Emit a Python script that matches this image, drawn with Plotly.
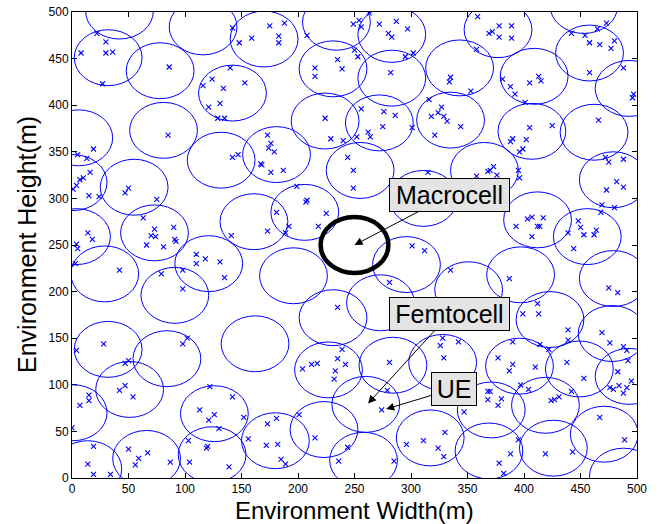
import plotly.graph_objects as go

# ---------------- data (metres) ----------------
cell_x = [42, 32, 78, 81, 6, 116, 170, 231, 234, 283, 142, 224, 272, 181, 132, 343, 377, 283, 335, 453,
          458, 409, 493, 407, 462, 55, 1, 73, 4, 29, 121, 91, 206, 161, 196, 255, 365, 311, 296, 351,
          273, 231, 479, 412, 456, 397, 479, 423, 478, 32, 84, 51, 1, 14, 66, 126, 124, 162, 227, 180,
          223, 284, 328, 260, 317, 258, 371, 369, 396, 449, 493, 419, 471, 426, 488]
cell_y = [501, 451, 437, 373, 365, 484, 471, 439, 489, 476, 413, 383, 381, 347, 341, 440, 481, 429, 384, 507,
          456, 431, 418, 372, 371, 312, 317, 263, 259, 219, 230, 196, 285, 275, 217, 330, 330, 300, 229, 202,
          188, 172, 320, 277, 259, 218, 214, 170, 155, 138, 128, 95, 70, 10, 21, 69, 25, 144, 116, 40,
          52, 121, 124, 79, 43, 19, 73, 29, 120, 117, 109, 78, 47, 32, 2]
CELL_R = 30

macro_x, macro_y, MACRO_R = 250, 250, 30

ue_x = [22, 30, 8, 30, 36, 27, 86, 85, 19, 5, 13,
        142, 175, 188, 159, 148, 183, 183, 208, 235, 215, 239, 215, 140, 124, 116, 134, 153, 131, 121, 129, 135,
        224, 229, 240, 173, 176, 174, 179, 142, 147, 167, 244,
        249, 254, 256, 263, 272, 287, 280, 283, 297, 359, 369, 358, 250, 253, 282, 295, 302, 335, 334, 353, 316,
        327, 324, 318, 329, 332, 344, 321, 256, 276, 286, 275, 301, 262, 252, 264,
        378, 389, 372, 378, 389, 473, 442, 454, 465, 458, 467, 480, 477, 458, 488, 497, 496, 381, 413, 405, 415,
        388, 392, 401, 405, 425, 466, 390, 402, 388, 399, 396, 472, 475, 488,
        16, 10, 7, 4, 1, 15, 24, 50, 47, 75, 63, 73, 70, 74, 90, 91, 92, 66, 81, 14, 18, 4, 5, 3, 42, 110, 110,
        118, 98, 79, 98,
        168, 176, 187, 199, 208, 207, 225, 218, 192, 189, 181, 173, 141, 131, 135, 235,
        249, 249, 315, 358, 368, 301, 312, 335, 281,
        370, 373, 376, 395, 396, 482, 488, 473, 469, 480, 468, 403, 407, 417, 393, 412, 414, 407, 448, 450, 439,
        453, 464, 462, 444, 387, 475, 483, 412, 413, 399,
        28, 4, 98, 102, 47, 50, 42, 47, 54, 15, 15, 7, 0, 19, 14, 19, 34, 50, 59, 56, 67, 87, 104, 113, 121, 103,
        119, 120,
        239, 235, 242, 212, 217, 233, 204, 232, 122, 142, 126, 152, 130, 181, 173, 201, 156, 172, 182, 215, 185,
        189, 139, 244, 236,
        281, 279, 274, 326, 328, 342, 329, 347, 368, 368, 330, 296, 311, 324, 329, 285,
        439, 439, 469, 476, 488, 491, 492, 390, 414, 422, 377, 390, 387, 410, 438, 453, 483, 495, 484, 476, 479,
        491, 488, 397, 404, 442, 370, 380, 377, 424, 427, 431, 467, 489, 395, 388, 419, 443, 378, 382]
ue_y = [477, 468, 456, 456, 457, 423, 441, 368, 353, 347, 343,
        483, 485, 488, 472, 467, 474, 467, 475, 449, 440, 439, 431, 440, 428, 421, 418, 424, 402, 398, 386, 386,
        386, 364, 362, 368, 359, 354, 350, 344, 347, 337, 344,
        487, 491, 484, 499, 487, 490, 477, 473, 482, 495, 477, 460, 459, 452, 435, 452, 456, 430, 425, 415, 406,
        398, 392, 388, 388, 383, 377, 368, 396, 393, 389, 377, 376, 371, 366, 366,
        485, 485, 479, 473, 472, 488, 477, 475, 482, 467, 465, 469, 461, 435, 440, 412, 408, 428, 431, 424, 426,
        420, 412, 403, 376, 378, 384, 364, 363, 361, 353, 350, 344, 339, 342,
        328, 322, 320, 314, 310, 303, 302, 311, 306, 299, 279, 267, 260, 259, 269, 256, 254, 250, 248, 263, 256,
        251, 246, 230, 223, 240, 230, 235, 223, 219, 203,
        336, 328, 330, 313, 298, 296, 284, 270, 270, 263, 285, 265, 260, 232, 215, 183,
        330, 311, 328, 324, 329, 249, 244, 223, 210,
        330, 334, 325, 330, 322, 318, 312, 309, 293, 290, 285, 278, 280, 279, 270, 270, 270, 259, 276, 269, 263,
        261, 266, 261, 246, 214, 204, 199, 187, 176, 176,
        144, 137, 144, 150, 123, 126, 94, 99, 87, 89, 83, 78, 54, 34, 15, 4, 4, 31, 21, 14, 27, 17, 17, 73, 62,
        40, 32, 34,
        138, 128, 122, 122, 123, 115, 117, 106, 98, 87, 68, 65, 53, 64, 58, 68, 42, 35, 36, 43, 20, 15, 12, 33,
        18,
        124, 94, 73, 142, 150, 146, 129, 71, 93, 84, 49, 36, 40, 32, 23, 18,
        159, 148, 156, 145, 141, 137, 126, 146, 143, 138, 129, 122, 115, 119, 124, 107, 114, 104, 99, 97, 95,
        97, 91, 100, 95, 93, 93, 85, 78, 83, 84, 87, 65, 41, 41, 26, 26, 28, 16, 5]

tick_vals = list(range(0, 501, 50))

FONT = "Liberation Sans, Arial, sans-serif"

fig = go.Figure()

fig.add_trace(go.Scatter(
    x=ue_x, y=ue_y, mode="markers",
    marker=dict(symbol="x-thin", size=5, line=dict(width=1.1, color="#0000ff")),
    showlegend=False, hoverinfo="skip", cliponaxis=True))

shapes = []
for cx, cy in zip(cell_x, cell_y):
    shapes.append(dict(type="circle", xref="x", yref="y",
                       x0=cx - CELL_R, x1=cx + CELL_R, y0=cy - CELL_R, y1=cy + CELL_R,
                       line=dict(color="#0000ff", width=1), layer="above"))
shapes.append(dict(type="circle", xref="x", yref="y",
                   x0=macro_x - MACRO_R, x1=macro_x + MACRO_R,
                   y0=macro_y - MACRO_R, y1=macro_y + MACRO_R,
                   line=dict(color="black", width=4.5), layer="above"))

ann_common = dict(xref="x", yref="y", axref="x", ayref="y", showarrow=True,
                  arrowhead=2, arrowsize=1.6, arrowwidth=1, arrowcolor="black",
                  bgcolor="#e4e4e4", bordercolor="black", borderwidth=1, borderpad=2,
                  height=28, font=dict(family=FONT, size=25, color="black"))
annotations = [
    dict(text="Macrocell", x=250, y=250, ax=334.5, ay=303.5, width=115, **ann_common),
    dict(text="Femtocell", x=262, y=80, ax=334, ay=175.5, width=115, **ann_common),
    dict(text="UE", x=278, y=74, ax=338, ay=96, width=40, **ann_common),
    dict(text="Environment Width(m)", xref="paper", yref="paper", x=0.5, y=0,
         xanchor="center", yanchor="top", yshift=-17, showarrow=False,
         font=dict(family=FONT, size=24, color="black")),
    dict(text="Environment Height(m)", xref="paper", yref="paper", x=0, y=0.5,
         xanchor="right", yanchor="middle", xshift=-29, textangle=-90, showarrow=False,
         font=dict(family=FONT, size=25, color="black")),
]

axis_common = dict(range=[0, 500], tickvals=tick_vals, ticks="inside", ticklen=5,
                   tickcolor="black", showline=True, linecolor="black", linewidth=1,
                   mirror="ticks", showgrid=False, zeroline=False, automargin=False,
                   ticklabeloverflow="allow",
                   tickfont=dict(family=FONT, size=12, color="black"))

fig.update_layout(
    width=664, height=524,
    margin=dict(l=72, r=27, t=12, b=46, autoexpand=False),
    paper_bgcolor="white", plot_bgcolor="white",
    shapes=shapes, annotations=annotations,
    xaxis=dict(**axis_common),
    yaxis=dict(**axis_common),
    showlegend=False,
)

# remove the default page margin so the figure sits at the window's top-left corner
fig.write_html("out.html", config={"displayModeBar": False},
               post_script="document.body.style.margin='0px';")
